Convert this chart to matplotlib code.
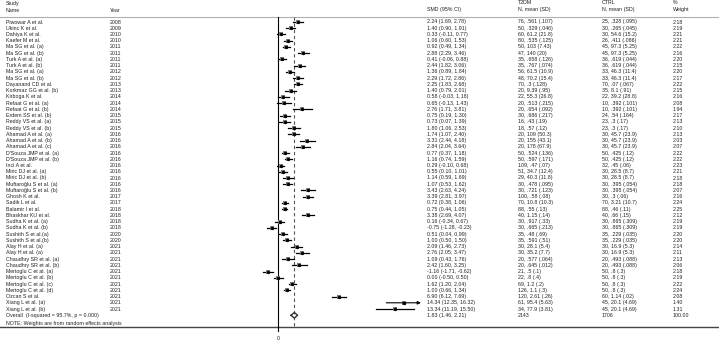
import numpy as np
import matplotlib.pyplot as plt
import matplotlib.transforms as mtransforms

studies = ["Piwowar A et al.", "Ukinc K et al.", "Dahiya K et al.", "Kaefer M et al.",
           "Ma SG et al. (a)", "Ma SG et al. (b)", "Turk A et al. (a)", "Turk A et al. (b)",
           "Ma SG et al. (a)", "Ma SG et al. (b)", "Dayanand CD et al.", "Korkmaz GG et al. (b)",
           "Kirboga K et al.", "Refaat G et al. (a)", "Refaat G et al. (b)", "Erdem SS et al. (b)",
           "Reddy VS et al. (a)", "Reddy VS et al. (b)", "Ahamad A et al. (a)", "Ahamad A et al. (b)",
           "Ahamad A et al. (c)", "D'Souza JMP et al. (a)", "D'Souza JMP et al. (b)", "Inci A et al.",
           "Miric DJ et al. (a)", "Miric DJ et al. (b)", "Muftaroğlu S et al. (a)", "Muftaroğlu S et al. (b)",
           "Ghosh K et al.", "Sadik L et al.", "Balamir I et al.", "Bhaskhar KU et al.",
           "Sudha K et al. (a)", "Sudha K et al. (b)", "Sushith S et al.(a)", "Sushith S et al.(b)",
           "Alay H et al. (a)", "Alay H et al. (a)", "Chaudhry SR et al. (a)", "Chaudhry SR et al. (b)",
           "Mertoglu C et al. (a)", "Mertoglu C et al. (b)", "Mertoglu C et al. (c)", "Mertoglu C et al. (d)",
           "Ozcan S et al.", "Xiang L et al. (a)", "Xiang L et al. (b)"]
years = [2008, 2009, 2010, 2010, 2011, 2011, 2011, 2011, 2012, 2012, 2013, 2013, 2014, 2014, 2014,
         2015, 2015, 2015, 2016, 2016, 2016, 2016, 2016, 2016, 2016, 2016, 2016, 2016, 2017, 2017,
         2018, 2018, 2018, 2018, 2020, 2020, 2021, 2021, 2021, 2021, 2021, 2021, 2021, 2021, 2021,
         2021, 2021]
smd = [2.24, 1.40, 0.33, 1.06, 0.92, 2.88, 0.41, 2.44, 1.36, 2.29, 2.25, 1.40, 0.58, 0.65, 2.76,
       0.75, 0.73, 1.80, 1.74, 3.31, 2.84, 0.77, 1.16, 0.29, 0.55, 1.14, 1.07, 3.43, 3.39, 0.72,
       0.75, 3.38, 0.16, -0.75, 0.51, 1.00, 2.09, 2.76, 1.09, 2.42, -1.16, 0.00, 1.62, 1.00, 6.90,
       14.34, 13.34]
lo = [1.69, 0.90, -0.11, 0.60, 0.49, 2.29, -0.06, 1.82, 0.89, 1.72, 1.83, 0.79, -0.03, -0.13, 1.71,
      0.19, 0.07, 1.06, 1.07, 2.44, 2.04, 0.37, 0.74, -0.10, 0.10, 0.59, 0.53, 2.63, 2.81, 0.38,
      0.44, 2.69, -0.34, -1.28, 0.04, 0.50, 1.46, 2.05, 0.43, 1.60, -1.71, -0.50, 1.20, 0.66, 6.12,
      12.35, 11.19]
hi = [2.78, 1.91, 0.77, 1.53, 1.34, 3.46, 0.88, 3.06, 1.84, 2.86, 2.68, 2.01, 1.18, 1.43, 3.81,
      1.30, 1.39, 2.53, 2.40, 4.18, 3.64, 1.18, 1.59, 0.68, 1.01, 1.69, 1.62, 4.24, 3.97, 1.06,
      1.05, 4.07, 0.67, -0.23, 0.99, 1.50, 2.73, 3.47, 1.76, 3.25, -0.62, 0.50, 2.04, 1.34, 7.69,
      16.32, 15.50]
t2dm = ["76, .561 (.107)", "50, .329 (.046)", "60, 61.2 (21.8)", "80, .535 (.125)", "50, 103 (7.43)",
        "47, 140 (20)", "35, .658 (.126)", "35, .767 (.074)", "56, 61.5 (10.9)", "48, 70.2 (15.4)",
        "70, .3 (.128)", "20, 9.39 (.95)", "22, 55.3 (26.8)", "20, .513 (.215)", "20, .654 (.092)",
        "30, .686 (.217)", "16, .43 (.19)", "18, .57 (.12)", "20, 109 (50.3)", "20, 155 (43.1)",
        "20, 178 (67.9)", "50, .524 (.136)", "50, .597 (.171)", "109, .47 (.07)", "51, 34.7 (12.4)",
        "29, 40.3 (11.8)", "30, .478 (.095)", "30, .721 (.123)", "100, .58 (.08)", "70, 10.8 (10.3)",
        "88, .55 (.13)", "40, 1.15 (.14)", "30, .917 (.33)", "30, .665 (.213)", "35, .48 (.69)",
        "35, .591 (.51)", "30, 28.1 (5.4)", "30, 35.2 (7.7)", "20, .577 (.064)", "20, .645 (.012)",
        "21, .5 (.1)", "22, .8 (.4)", "69, 1.2 (.2)", "126, 1.1 (.3)", "120, 2.61 (.26)",
        "61, 95.4 (5.63)", "34, 77.9 (3.81)"]
ctrl = ["25, .328 (.095)", "30, .265 (.045)", "30, 54.6 (15.2)", "26, .411 (.086)", "45, 97.3 (5.25)",
        "45, 97.3 (5.25)", "36, .619 (.044)", "36, .619 (.044)", "33, 46.3 (11.4)", "33, 46.3 (11.4)",
        "70, .07 (.067)", "35, 8.1 (.91)", "22, 39.2 (28.8)", "10, .392 (.101)", "10, .392 (.101)",
        "24, .54 (.164)", "23, .3 (.17)", "23, .3 (.17)", "30, 45.7 (23.9)", "30, 45.7 (23.9)",
        "30, 45.7 (23.9)", "50, .425 (.12)", "50, .425 (.12)", "32, .45 (.06)", "30, 28.5 (8.7)",
        "30, 28.5 (8.7)", "30, .395 (.054)", "30, .395 (.054)", "30, .3 (.06)", "70, 3.21 (10.7)",
        "88, .46 (.11)", "40, .66 (.15)", "30, .865 (.309)", "30, .865 (.309)", "35, .229 (.035)",
        "35, .229 (.035)", "30, 16.9 (5.3)", "30, 16.9 (5.3)", "20, .493 (.088)", "20, .493 (.088)",
        "50, .8 (.3)", "50, .8 (.3)", "50, .8 (.3)", "50, .8 (.3)", "60, 1.14 (.02)",
        "45, 20.1 (4.69)", "45, 20.1 (4.69)"]
weight = [2.18, 2.19, 2.21, 2.21, 2.22, 2.16, 2.20, 2.15, 2.20, 2.17, 2.22, 2.15, 2.16, 2.08, 1.94,
          2.17, 2.13, 2.10, 2.13, 2.03, 2.07, 2.22, 2.22, 2.23, 2.21, 2.18, 2.18, 2.07, 2.16, 2.24,
          2.25, 2.12, 2.19, 2.19, 2.20, 2.20, 2.14, 2.11, 2.13, 2.06, 2.18, 2.19, 2.22, 2.24, 2.08,
          1.40, 1.31]
overall = (1.83, 1.46, 2.21)
overall_label = "Overall  (I-squared = 95.7%, p = 0.000)"
overall_n = ("2143", "1706", "100.00")

W, H = 719, 341
fig = plt.figure(figsize=(W / 100, H / 100), dpi=100)
ax = fig.add_axes([0, 0, 1, 1])
ax.axis("off")

# map data -> pixels: x_px = 278.3 + 8.74*smd, y_px = 22 + 6.24*row
x0, sx = 278.3, 8.74
y0, sy = 22.0, 6.24
ax.set_xlim(-x0 / sx, (W - x0) / sx)
ax.set_ylim((H - y0) / sy, -y0 / sy)

def py(p):
    return (p - y0) / sy

n = len(studies)
xmax = max(hi)
fs = 3.8
tc = "#222222"
tr = mtransforms.blended_transform_factory(fig.transFigure, ax.transData)

def col(xpx, yv, s, **kw):
    ax.text(xpx / W, yv, s, transform=tr, fontsize=fs, color=tc, va="center",
            family="Liberation Sans", **kw)

# header
col(6, py(3), "Study")
col(6, py(10), "Name")
col(110, py(10), "Year")
col(427, py(10), "SMD (95% CI)")
col(518, py(3), "T2DM")
col(518, py(10), "N, mean (SD)")
col(602, py(3), "CTRL")
col(602, py(10), "N, mean (SD)")
col(673, py(3), "%")
col(673, py(10), "Weight")

for i in range(n):
    col(6, i, studies[i])
    col(110, i, str(years[i]))
    col(427, i, f"{smd[i]:.2f} ({lo[i]:.2f}, {hi[i]:.2f})")
    col(518, i, t2dm[i])
    col(602, i, ctrl[i])
    col(673, i, f"{weight[i]:.2f}")

ov = n
col(6, ov, overall_label)
col(427, ov, f"{overall[0]:.2f} ({overall[1]:.2f}, {overall[2]:.2f})")
col(518, ov, overall_n[0])
col(602, ov, overall_n[1])
col(673, ov, overall_n[2])
col(6, py(324), "NOTE: Weights are from random effects analysis")

# separator lines
ax.plot(ax.get_xlim(), [py(16.7)] * 2, color="#b0b0b0", lw=0.8)
ax.plot(ax.get_xlim(), [py(327)] * 2, color="#444444", lw=1.0)

# reference lines
ax.plot([0, 0], [py(16.7), py(331)], color="black", lw=0.8)
ax.plot([overall[0]] * 2, [py(17), py(327)], color="#555555", lw=0.8, ls=(0, (3, 2.5)))
ax.text(0, py(338), "0", fontsize=fs, color=tc, ha="center", va="center",
        family="Liberation Sans")

# studies
for i in range(n):
    if hi[i] >= xmax:
        ax.annotate("", xy=(hi[i], i), xytext=(lo[i], i),
                    arrowprops=dict(arrowstyle="-|>", color="black", lw=0.8,
                                    mutation_scale=4.5, shrinkA=0, shrinkB=0))
    else:
        ax.plot([lo[i], hi[i]], [i, i], color="black", lw=0.9)
    ax.plot(smd[i], i, marker="s", ms=2.3 * np.sqrt(weight[i]), color="#7a7a7a", mew=0)
    ax.plot(smd[i], i, marker="o", ms=2.4, color="black", mew=0)

# overall diamond
dx = [overall[1], overall[0], overall[2], overall[0], overall[1]]
dy = [ov, ov - 0.45, ov, ov + 0.45, ov]
ax.plot(dx, dy, color="#333333", lw=1.0)

fig.savefig("out.png", dpi=100)
